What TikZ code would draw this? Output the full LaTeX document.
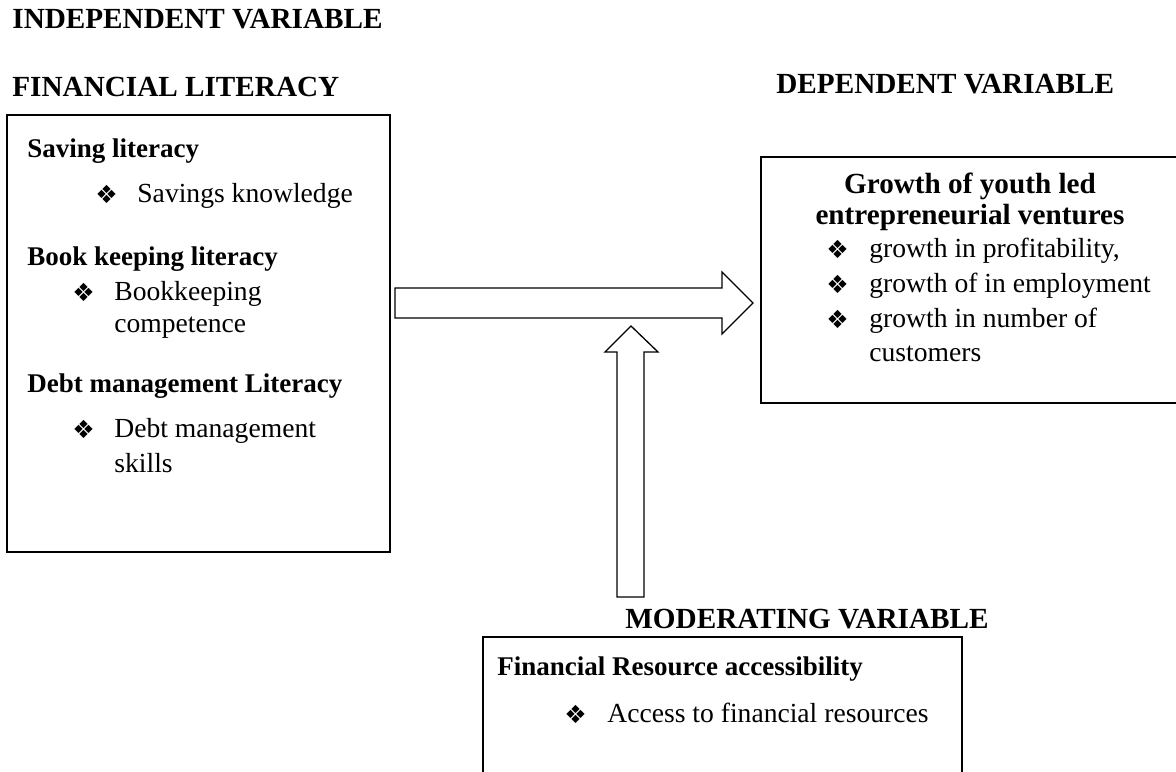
\documentclass[tikz,border=0pt]{standalone}
\usepackage{fontspec}
\setmainfont{Liberation Serif}
\newfontfamily\dingfont{DejaVu Sans}
\newcommand\diabul{❖}
\begin{document}
\begin{tikzpicture}[x=0.5pt,y=-0.5pt,
  heading/.style={anchor=base west,inner sep=0pt,font=\fontsize{14.6}{17}\bfseries},
  titlehead/.style={anchor=base,inner sep=0pt,font=\fontsize{14.6}{17}\bfseries},
  boxhead/.style={anchor=base west,inner sep=0pt,font=\fontsize{13.5}{16}\bfseries},
  item/.style={anchor=base west,inner sep=0pt,font=\fontsize{13.8}{16}\selectfont},
  bullet/.style={anchor=base west,inner sep=0pt,yshift=-0.6pt,font=\dingfont\fontsize{12.5}{13}\selectfont},
  frame/.style={draw,line width=0.75pt},
  block/.style={draw,line width=0.65pt,line join=miter}]
\useasboundingbox (0,0) rectangle (1176,771);
\clip (0,0) rectangle (1176,771);

% section headings
\node[heading] (indep) at (12,28) {INDEPENDENT VARIABLE};
\node[heading] (finlit) at (12,96) {FINANCIAL LITERACY};
\node[heading] (dep) at (776,93) {DEPENDENT VARIABLE};
\node[heading] (mod) at (625,628) {MODERATING VARIABLE};

% financial literacy box
\coordinate (lbA) at (7,115);
\coordinate (lbB) at (390,552);
\draw[frame] (lbA) rectangle (lbB);
\node[boxhead] (save) at (27,157) {Saving literacy};
\node[bullet] (bsave) at (95,202) {\diabul};
\node[item] (save1) at (137,202) {Savings knowledge};
\node[boxhead] (book) at (27,265) {Book keeping literacy};
\node[bullet] (bbook) at (72,300) {\diabul};
\node[item] (book1) at (114,300) {Bookkeeping};
\node[item] (book2) at (114,332) {competence};
\node[boxhead] (debt) at (27,392) {Debt management Literacy};
\node[bullet] (bdebt) at (72,437) {\diabul};
\node[item] (debt1) at (114,437) {Debt management};
\node[item] (debt2) at (114,472) {skills};

% growth box
\coordinate (rbA) at (761,157);
\coordinate (rbB) at (1179,403);
\draw[frame] (rbA) rectangle (rbB);
\node[titlehead] (grow1) at (970,193) {Growth of youth led};
\node[titlehead] (grow2) at (970,224) {entrepreneurial ventures};
\node[bullet] (bg1) at (826,257) {\diabul};
\node[item] (g1) at (869,257) {growth in profitability,};
\node[bullet] (bg2) at (826,292) {\diabul};
\node[item] (g2) at (869,292) {growth of in employment};
\node[bullet] (bg3) at (826,327) {\diabul};
\node[item] (g3) at (869,327) {growth in number of};
\node[item] (g4) at (869,361) {customers};

% moderating box
\coordinate (mbA) at (483,637);
\coordinate (mbB) at (962,776);
\draw[frame] (mbA) rectangle (mbB);
\node[boxhead] (fra) at (497,675) {Financial Resource accessibility};
\node[bullet] (bfra) at (564,722) {\diabul};
\node[item] (acc) at (607,722) {Access to financial resources};

% block arrow from the literacy box towards the growth box
\coordinate (hA) at (395,288);
\coordinate (hB) at (722,288);
\coordinate (hC) at (722,272);
\coordinate (hTip) at (753,303);
\coordinate (hD) at (722,334);
\coordinate (hE) at (722,318);
\coordinate (hF) at (395,318);
\draw[block] (hA) -- (hB) -- (hC) -- (hTip) -- (hD) -- (hE) -- (hF) -- cycle;

% block arrow from the moderating variable up to the main arrow
\coordinate (vA) at (617,597);
\coordinate (vB) at (644,597);
\coordinate (vC) at (644,352);
\coordinate (vD) at (658,352);
\coordinate (vTip) at (631,326);
\coordinate (vE) at (605,352);
\coordinate (vF) at (617,352);
\draw[block] (vA) -- (vB) -- (vC) -- (vD) -- (vTip) -- (vE) -- (vF) -- cycle;
\end{tikzpicture}
\end{document}
